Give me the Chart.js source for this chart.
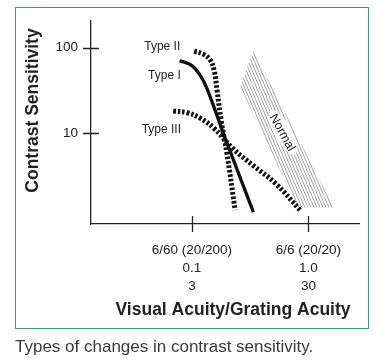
<!DOCTYPE html>
<html>
<head>
<meta charset="utf-8">
<script src="https://cdn.jsdelivr.net/npm/chart.js@4.4.1/dist/chart.umd.min.js"></script>
<style>
  html, body { margin: 0; padding: 0; background: #fff; }
  #wrap { position: relative; width: 379px; height: 362px; overflow: hidden; }
  #chart { position: absolute; left: 0; top: 0; }
  .frame { position: absolute; left: 14.5px; top: 6.5px; width: 352.5px; height: 320.5px; border: 1.5px solid #3a8e94; pointer-events: none; }
  .caption { position: absolute; left: 15px; top: 337px; font: 17px 'Liberation Sans', Arial, sans-serif; line-height: 20px; color: #3a3a3a; white-space: nowrap; }
</style>
</head>
<body>
<div id="wrap">
  <canvas id="chart" width="379" height="330"></canvas>
  <div class="frame"></div>
  <div class="caption">Types of changes in contrast sensitivity.</div>
</div>
<script>
// ============================================
// Данные
// ============================================

// ось X: острота зрения (десятичная), ось Y: контрастная чувствительность
const xTickValues = [0.1, 1.0];
const xTickLabels = [
  ['6/60 (20/200)', '0.1', '3'],
  ['6/6 (20/20)', '1.0', '30']
];
const yTickValues = [10, 100];
const yTickLabels = ['10', '100'];

const typeIAcuity = [0.0783, 0.100, 0.1178, 0.1345, 0.1929, 0.3373];
const typeISens   = [70.4, 61.7, 47.4, 33.5, 8.77, 1.20];

const typeIIAcuity = [0.1046, 0.1250, 0.1435, 0.1553, 0.1647, 0.1782, 0.2006, 0.2350];
const typeIISens   = [90.7, 83.9, 71.7, 53.7, 30.9, 14.1, 5.61, 1.26];

const typeIIIAcuity = [0.0691, 0.0911, 0.1178, 0.1553, 0.2214, 0.3353, 0.5174, 0.8472];
const typeIIISens   = [18.15, 17.36, 15.02, 11.40, 6.75, 4.20, 2.62, 1.27];

// контур заштрихованной области "Normal"
const normalAcuity = [0.2594, 0.3373, 1.657, 0.8144, 0.2594];
const normalSens   = [35.0, 91.5, 1.36, 1.36, 35.0];

const pts = (xs, ys) => xs.map((v, i) => ({ x: v, y: ys[i] }));

const FONT = "'Liberation Sans', Arial, sans-serif";
const INK = '#222';

// штриховка
function makeHatch() {
  const c = document.createElement('canvas');
  c.width = 12; c.height = 28;
  const g = c.getContext('2d');
  g.strokeStyle = '#8a8a8a';
  g.lineWidth = 0.8;
  for (let dx = -12; dx < 12; dx += 3) {
    g.beginPath();
    g.moveTo(dx, 0);
    g.lineTo(dx + 12, 28);
    g.stroke();
  }
  return g.createPattern(c, 'repeat');
}

// подписи кривых (в координатах данных)
const notes = [
  { text: 'Type II', x: 0.0556, y: 101.6 },
  { text: 'Type I', x: 0.0581, y: 47.5 },
  { text: 'Type III', x: 0.0546, y: 10.9 }
];

const decor = {
  id: 'decor',
  afterDatasetsDraw(chart) {
    const { ctx, scales: { x, y } } = chart;
    ctx.save();
    ctx.font = '12px ' + FONT;
    ctx.fillStyle = INK;
    ctx.textAlign = 'center';
    ctx.textBaseline = 'middle';
    notes.forEach(n => {
      ctx.fillText(n.text, x.getPixelForValue(n.x), y.getPixelForValue(n.y));
    });

    // "Normal" на белой подложке, повернуто
    const cx = x.getPixelForValue(0.605), cy = y.getPixelForValue(10.3);
    ctx.translate(cx, cy);
    ctx.rotate(61 * Math.PI / 180);
    ctx.font = '12.5px ' + FONT;
    const w = ctx.measureText('Normal').width;
    ctx.fillStyle = '#fff';
    ctx.beginPath();
    ctx.ellipse(0, 0, w / 2 + 5, 8.5, 0, 0, Math.PI * 2);
    ctx.fill();
    ctx.fillStyle = INK;
    ctx.fillText('Normal', 0, 1);
    ctx.restore();
  },
  afterDraw(chart) {
    const { ctx, chartArea: a, scales: { x, y } } = chart;
    ctx.save();
    ctx.strokeStyle = INK;
    ctx.lineWidth = 1.3;
    ctx.beginPath();
    x.ticks.forEach(t => {
      const px = Math.round(x.getPixelForValue(t.value)) + 0.5;
      ctx.moveTo(px, a.bottom - 8);
      ctx.lineTo(px, a.bottom + 8);
    });
    y.ticks.forEach(t => {
      const py = Math.round(y.getPixelForValue(t.value)) + 0.5;
      ctx.moveTo(a.left - 8, py);
      ctx.lineTo(a.left + 8, py);
    });
    ctx.stroke();

    // подписи осей
    ctx.fillStyle = INK;
    ctx.font = 'bold 17.5px ' + FONT;
    ctx.textAlign = 'center';
    ctx.textBaseline = 'middle';
    ctx.fillText('Visual Acuity/Grating Acuity', 233, 310);
    ctx.translate(33, 110.5);
    ctx.rotate(-Math.PI / 2);
    ctx.fillText('Contrast Sensitivity', 0, 0);
    ctx.restore();
  }
};

const dashed = { borderColor: '#111', borderWidth: 5, borderDash: [2.6, 1.9], borderCapStyle: 'butt' };

new Chart(document.getElementById('chart'), {
  type: 'scatter',
  data: {
    datasets: [
      { label: 'Type I', data: pts(typeIAcuity, typeISens), showLine: true, borderColor: '#111', borderWidth: 3.3, tension: 0.4, pointRadius: 0 },
      Object.assign({ label: 'Type II', data: pts(typeIIAcuity, typeIISens), showLine: true, tension: 0.4, pointRadius: 0 }, dashed),
      Object.assign({ label: 'Type III', data: pts(typeIIIAcuity, typeIIISens), showLine: true, tension: 0.4, pointRadius: 0 }, dashed),
      { label: 'Normal', data: pts(normalAcuity, normalSens), showLine: true, borderWidth: 0, borderColor: 'rgba(0,0,0,0)', backgroundColor: makeHatch(), fill: 'shape', tension: 0, pointRadius: 0 }
    ]
  },
  options: {
    responsive: false,
    animation: false,
    events: [],
    layout: { padding: { top: 16, right: 20, left: 0, bottom: 0 } },
    plugins: { legend: { display: false }, tooltip: { enabled: false } },
    scales: {
      x: {
        type: 'logarithmic',
        min: 0.0136, max: 2.72,
        bounds: 'data',
        afterFit: s => { s.height = 106; },
        afterBuildTicks: s => { s.ticks = xTickValues.map(v => ({ value: v })); },
        grid: { display: false, drawTicks: false },
        border: { display: true, color: INK, width: 1.3 },
        ticks: {
          autoSkip: false, maxRotation: 0, padding: 17,
          color: INK,
          font: { family: FONT, size: 13.5, lineHeight: 18 / 13.5 },
          callback: (v, i) => xTickLabels[i]
        }
      },
      y: {
        type: 'logarithmic',
        min: 0.87, max: 204,
        bounds: 'data',
        afterFit: s => { s.width = 91; },
        afterBuildTicks: s => { s.ticks = yTickValues.map(v => ({ value: v })); },
        grid: { display: false, drawTicks: false },
        border: { display: true, color: INK, width: 1.3 },
        ticks: {
          autoSkip: false, padding: 13,
          color: INK,
          font: { family: FONT, size: 13.5 },
          callback: (v, i) => yTickLabels[i]
        }
      }
    }
  },
  plugins: [decor]
});
</script>
</body>
</html>
